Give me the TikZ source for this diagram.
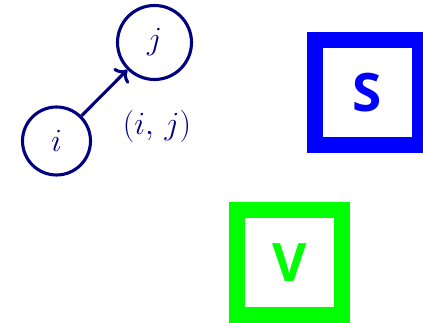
\documentclass[tikz,border=0pt]{standalone}
\usepackage{fontspec}
\usetikzlibrary{arrows.meta}
\newfontfamily\boxfont{Open Sans}
\definecolor{navyc}{RGB}{0,0,128}
\definecolor{bluec}{RGB}{0,0,255}
\definecolor{greenc}{RGB}{0,255,0}
\newcommand{\mylab}[1]{\scalebox{1.3}{\Huge$#1$}}
\tikzset{
  vert/.style={circle, draw=navyc, line width=3.1pt, inner sep=0pt, text=navyc},
  conn/.style={draw=navyc, line width=3.1pt, -{To[scale=1.2]}},
  bigbox/.style={draw=#1, line width=16pt, minimum size=105pt, inner sep=0pt, text=#1, font=\boxfont\bfseries\fontsize{53}{60}\selectfont}
}
\begin{document}
\begin{tikzpicture}[x=1pt,y=1pt]
\useasboundingbox (0,0) rectangle (423,323);
\node[vert, minimum size=68pt] (i) at (56.5,182) {\mylab{i}};
\node[vert, minimum size=74pt] (j) at (154.5,280.5) {\mylab{j}};
\draw[conn] (i) -- (j);
\node[text=navyc] (lab) at (157,197) {\mylab{(i,\,j)}};
\node[bigbox=bluec] (S) at (367.5,230.5) {S};
\node[bigbox=greenc] (V) at (289.5,60.5) {V};
\end{tikzpicture}
\end{document}
